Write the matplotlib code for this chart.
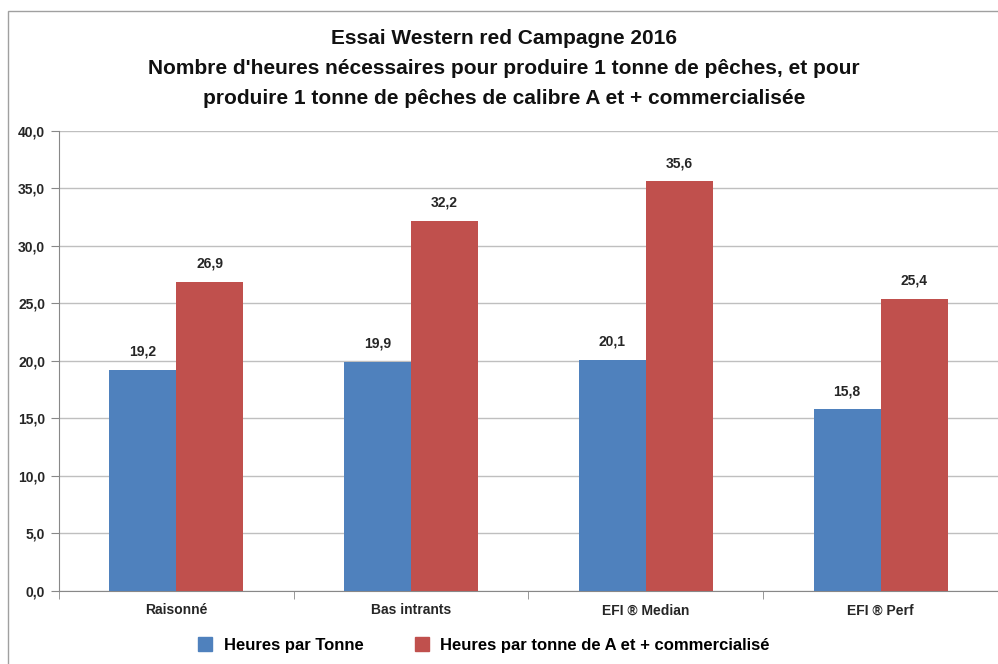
import numpy as np
import matplotlib.pyplot as plt
from matplotlib.ticker import FuncFormatter
from matplotlib.lines import Line2D
from matplotlib.patches import Rectangle

plt.rcParams['font.family'] = ['Liberation Sans Narrow', 'Liberation Sans', 'DejaVu Sans']

categories = ['Raisonné', 'Bas intrants', 'EFI ® Median', 'EFI ® Perf']
heures_tonne = [19.2, 19.9, 20.1, 15.8]
heures_tonne_a = [26.9, 32.2, 35.6, 25.4]
series_labels = ['Heures par Tonne', 'Heures par tonne de A et + commercialisé']
title = ("Essai Western red Campagne 2016\n"
         "Nombre d'heures nécessaires pour produire 1 tonne de pêches, et pour\n"
         "produire 1 tonne de pêches de calibre A et + commercialisée")

blue = '#4F81BD'
red = '#C0504D'

fig = plt.figure(figsize=(9.98, 6.64), dpi=100)
ax = fig.add_axes([0.0591, 0.110, 0.9409, 0.693])

x = np.arange(len(categories))
w = 0.285
b1 = ax.bar(x - w / 2, heures_tonne, w, color=blue, zorder=3)
b2 = ax.bar(x + w / 2, heures_tonne_a, w, color=red, zorder=3)

for bars, vals in ((b1, heures_tonne), (b2, heures_tonne_a)):
    for bar, v in zip(bars, vals):
        ax.annotate(f'{v:.1f}'.replace('.', ','),
                    (bar.get_x() + bar.get_width() / 2, v),
                    xytext=(0, 8), textcoords='offset points',
                    ha='center', va='bottom', fontsize=10, fontweight='bold',
                    color='#262626')

ax.set_xlim(-0.5, len(categories) - 0.5)
ax.set_ylim(0, 40)
ax.set_yticks(np.arange(0, 40.1, 5))
ax.yaxis.set_major_formatter(FuncFormatter(lambda v, p: f'{v:.1f}'.replace('.', ',')))
ax.grid(axis='y', color='#BFBFBF', linewidth=1, zorder=0)

ax.set_xticks(x)
ax.set_xticklabels(categories, fontsize=10, fontweight='bold', color='#262626')
ax.set_xticks(np.arange(-0.5, len(categories)), minor=True)
ax.tick_params(axis='x', which='major', length=0, pad=9)
ax.tick_params(axis='x', which='minor', length=6, color='#888888')
ax.tick_params(axis='y', length=6, color='#888888', labelsize=10, pad=4)
for lab in ax.get_yticklabels():
    lab.set_fontweight('bold')
    lab.set_color('#262626')

for s in ['top', 'right']:
    ax.spines[s].set_visible(False)
ax.spines['left'].set_color('#888888')
ax.spines['bottom'].set_color('#888888')

fig.text(0.505, 0.956, title, ha='center', va='top', fontsize=15,
         fontweight='bold', linespacing=1.74, color='#111111')

handles = [Line2D([], [], marker='s', linestyle='none', markersize=10, color=c)
           for c in (blue, red)]
fig.legend(handles, series_labels, loc='center', bbox_to_anchor=(0.48, 0.028),
           ncol=2, frameon=False, fontsize=12, handletextpad=0.1,
           columnspacing=2.5, prop={'weight': 'bold', 'size': 12})

fig.patches.append(Rectangle((0.008, -0.01), 1.1, 0.9934, transform=fig.transFigure,
                             fill=False, edgecolor='#A0A0A0', linewidth=1))

fig.savefig('out.png', dpi=100)
